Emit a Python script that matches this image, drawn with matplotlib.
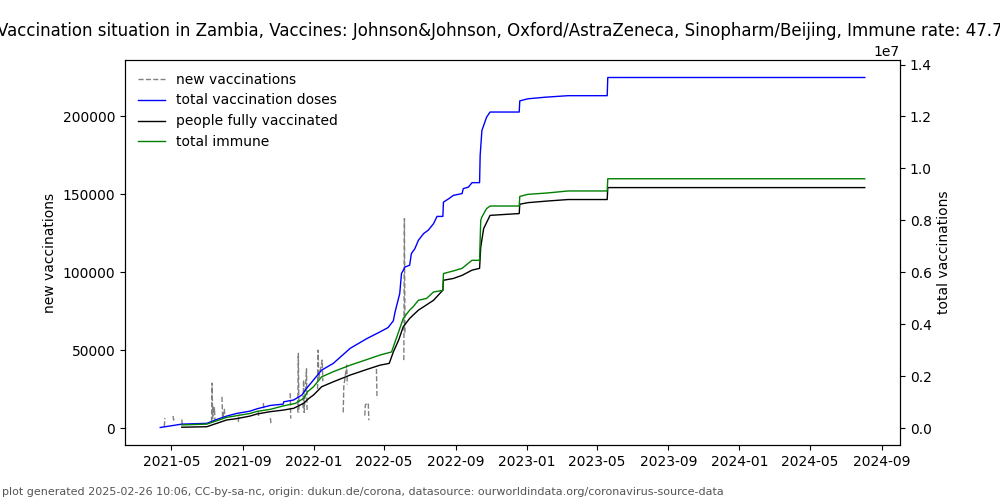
"""
Vaccination situation in Zambia: new vaccinations (left axis) and cumulative totals (right axis).
"""
import numpy as np
import pandas as pd
import matplotlib
matplotlib.use('Agg')
import matplotlib.pyplot as plt

country = 'Zambia'
vaccines = 'Johnson&Johnson, Oxford/AstraZeneca, Sinopharm/Beijing'
immune_rate = '47.74%'
footer = ('plot generated 2025-02-26 10:06, CC-by-sa-nc, origin: dukun.de/corona, '
          'datasource: ourworldindata.org/coronavirus-source-data')

# Daily new vaccinations, None marks a gap in the reporting.
new_dates = ['2021-04-19', '2021-04-20', None,
             '2021-05-04', '2021-05-05', '2021-05-06', None,
             '2021-05-19', '2021-05-20', None,
             '2021-07-09', '2021-07-10', '2021-07-11', '2021-07-12', '2021-07-13', '2021-07-14', '2021-07-15', None,
             '2021-07-27', '2021-07-28', '2021-07-31', '2021-08-01', None,
             '2021-08-24', '2021-08-25', None,
             '2021-09-27', '2021-09-28', None,
             '2021-10-06', '2021-10-07', None,
             '2021-10-18', '2021-10-19', None,
             '2021-11-21', '2021-11-22', None,
             '2021-12-04', '2021-12-05', '2021-12-06', None,
             '2021-12-13', '2021-12-14', '2021-12-15', '2021-12-19', '2021-12-20', None,
             '2022-01-07', '2022-01-08', '2022-01-09', '2022-01-15', '2022-01-16', None,
             '2022-02-20', '2022-02-21', '2022-02-26', '2022-02-27', None,
             '2022-03-29', '2022-03-30', '2022-04-04', '2022-04-05', None,
             '2022-04-18', '2022-04-19', None,
             '2022-06-04', '2022-06-05', '2022-06-06']
new_values = [1000, 6400, None,
              7700, 5100, 7000, None,
              5500, 1000, None,
              4000, 28800, 6000, 14000, 9000, 13000, 5000, None,
              20000, 6500, 12000, 7000, None,
              4000, 9000, None,
              11000, 6000, None,
              16000, 11000, None,
              6400, 3000, None,
              22400, 6000, None,
              10000, 48000, 10000, None,
              13000, 30800, 10000, 38000, 11000, None,
              25000, 50000, 32000, 43600, 30000, None,
              10000, 26500, 40400, 28000, None,
              8000, 15000, 16000, 5000, None,
              38000, 19000, None,
              43600, 134400, 60000]

# Cumulative totals in millions.
doses_dates = ['2021-04-12', '2021-05-19', '2021-07-01', '2021-07-18', '2021-08-04', '2021-08-21',
               '2021-09-13', '2021-09-25', '2021-10-18', '2021-11-09', '2021-11-10', '2021-11-27',
               '2021-12-11', '2021-12-20', '2021-12-31', '2022-01-14', '2022-02-03', '2022-03-04',
               '2022-04-02', '2022-04-24', '2022-05-08', '2022-05-17', '2022-05-20', '2022-05-28',
               '2022-05-31', '2022-06-06', '2022-06-14', '2022-06-17', '2022-06-23', '2022-06-29',
               '2022-07-08', '2022-07-16', '2022-07-25', '2022-07-31', '2022-08-10', '2022-08-11',
               '2022-08-20', '2022-08-28', '2022-09-12', '2022-09-14', '2022-09-23', '2022-09-29',
               '2022-10-12', '2022-10-13', '2022-10-16', '2022-10-24', '2022-10-30', '2022-12-19',
               '2022-12-20', '2023-01-03', '2023-02-01', '2023-03-13', '2023-05-19', '2023-05-20',
               '2024-08-03']
doses_values = [0.02, 0.15, 0.18, 0.33, 0.46, 0.56,
                0.65, 0.74, 0.87, 0.92, 1.01, 1.08,
                1.27, 1.55, 1.85, 2.23, 2.49, 3.07,
                3.45, 3.70, 3.87, 4.13, 4.47, 5.18,
                5.95, 6.20, 6.27, 6.72, 6.91, 7.23,
                7.49, 7.62, 7.87, 8.15, 8.15, 8.70,
                8.83, 8.96, 9.03, 9.22, 9.28, 9.45,
                9.45, 10.50, 11.46, 11.97, 12.17, 12.17,
                12.60, 12.68, 12.74, 12.80, 12.80, 13.50,
                13.50]

full_dates = ['2021-05-19', '2021-07-01', '2021-07-18', '2021-08-04', '2021-08-21', '2021-09-13',
              '2021-09-25', '2021-10-18', '2021-11-09', '2021-11-27', '2021-12-14', '2021-12-23',
              '2021-12-31', '2022-01-14', '2022-02-03', '2022-03-04', '2022-04-02', '2022-04-24',
              '2022-05-10', '2022-05-17', '2022-05-26', '2022-06-03', '2022-06-14', '2022-06-20',
              '2022-06-29', '2022-07-08', '2022-07-25', '2022-08-10', '2022-08-11', '2022-08-28',
              '2022-09-12', '2022-09-29', '2022-10-12', '2022-10-14', '2022-10-19', '2022-10-30',
              '2022-12-19', '2022-12-20', '2023-01-03', '2023-02-04', '2023-03-13', '2023-05-19',
              '2023-05-20', '2024-08-03']
full_values = [0.03, 0.05, 0.18, 0.31, 0.36, 0.46,
               0.54, 0.63, 0.69, 0.76, 0.95, 1.14,
               1.27, 1.59, 1.78, 2.04, 2.26, 2.42,
               2.49, 2.93, 3.38, 3.90, 4.22, 4.35,
               4.54, 4.67, 4.92, 5.31, 5.69, 5.76,
               5.88, 6.08, 6.15, 6.97, 7.68, 8.19,
               8.26, 8.62, 8.68, 8.74, 8.80, 8.80,
               9.26, 9.26]

immune_dates = ['2021-05-19', '2021-07-01', '2021-07-18', '2021-08-04', '2021-09-13', '2021-09-25',
                '2021-10-18', '2021-11-09', '2021-11-30', '2021-12-14', '2021-12-21', '2021-12-31',
                '2022-01-14', '2022-02-03', '2022-03-04', '2022-04-02', '2022-04-24', '2022-05-14',
                '2022-05-20', '2022-05-26', '2022-06-03', '2022-06-14', '2022-06-20', '2022-06-29',
                '2022-07-13', '2022-07-25', '2022-08-10', '2022-08-11', '2022-08-28', '2022-09-12',
                '2022-09-29', '2022-10-12', '2022-10-14', '2022-10-16', '2022-10-24', '2022-10-30',
                '2022-12-19', '2022-12-20', '2023-01-03', '2023-02-04', '2023-03-13', '2023-05-19',
                '2023-05-20', '2024-08-03']
immune_values = [0.12, 0.15, 0.28, 0.41, 0.56, 0.64,
                 0.72, 0.85, 0.95, 1.14, 1.40, 1.59,
                 1.97, 2.17, 2.42, 2.64, 2.81, 2.93,
                 3.32, 3.70, 4.22, 4.54, 4.67, 4.92,
                 4.99, 5.24, 5.30, 5.95, 6.05, 6.15,
                 6.46, 6.46, 8.00, 8.13, 8.45, 8.55,
                 8.55, 8.92, 9.00, 9.05, 9.13, 9.13,
                 9.60, 9.60]


def to_dates(dates):
    """Converts date strings to timestamps, keeping gaps as NaT."""
    return pd.to_datetime([d if d is not None else pd.NaT for d in dates])


def to_values(values, scale=1.0):
    """Converts values to a float array, gaps become NaN."""
    return np.array([v * scale if v is not None else np.nan for v in values], dtype=float)


fig, ax = plt.subplots(figsize=(10, 5), dpi=100)
ax2 = ax.twinx()

# Gaps are bridged by a NaN value so the dashed line breaks there.
nd = to_dates(new_dates)
nv = to_values(new_values)
nd = nd.to_series().ffill().values
l1, = ax.plot(nd, nv, color='gray', linestyle='--', linewidth=1, label='new vaccinations')

l2, = ax2.plot(to_dates(doses_dates), to_values(doses_values, 1e6), color='blue', linewidth=1,
               label='total vaccination doses')
l3, = ax2.plot(to_dates(full_dates), to_values(full_values, 1e6), color='black', linewidth=1,
               label='people fully vaccinated')
l4, = ax2.plot(to_dates(immune_dates), to_values(immune_values, 1e6), color='green', linewidth=1,
               label='total immune')

# Left axis is kept proportional to the right one.
low, high = ax2.get_ylim()
ax.set_ylim(low / 60, high / 60)

ax.set_ylabel('new vaccinations')
ax2.set_ylabel('total vaccinations')
ax.set_title(f'Vaccination situation in {country}, Vaccines: {vaccines}, Immune rate: {immune_rate}')
ax2.legend(handles=[l1, l2, l3, l4], loc='upper left', frameon=False)

fig.text(0.002, 0.006, footer, fontsize=8, color='#555555', ha='left', va='bottom')

plt.savefig('out.png')
